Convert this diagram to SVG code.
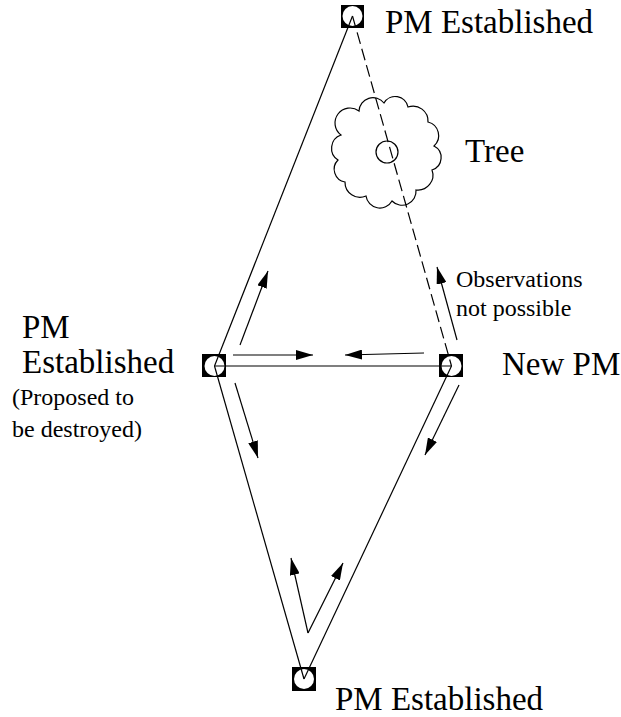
<svg xmlns="http://www.w3.org/2000/svg" width="621" height="717" viewBox="0 0 621 717">
<style>
.big{font-family:"Liberation Serif","Times New Roman",serif;font-size:33px;fill:#000}
.small{font-family:"Liberation Serif","Times New Roman",serif;font-size:24px;fill:#000}
.ln{stroke:#000;stroke-width:1.2;fill:none}
.dash{stroke:#000;stroke-width:1.2;fill:none;stroke-dasharray:12 5}
.arr{stroke:#000;stroke-width:1.2;fill:none;marker-end:url(#ah)}
.sq{fill:#000}
.ci{fill:#fff}
</style>
<defs>
<marker id="ah" markerUnits="userSpaceOnUse" markerWidth="18" markerHeight="10" refX="17" refY="5" orient="auto">
<path d="M0,0 L17,5 L0,10 z" fill="#000"/>
</marker>
</defs>
<rect width="621" height="717" fill="#fff"/>
<g id="pm-top">
<rect class="sq" x="341" y="5" width="23" height="23"/>
<circle class="ci" cx="352.5" cy="16" r="10"/>
</g>
<g id="pm-left">
<rect class="sq" x="202" y="354" width="24" height="23"/>
<circle class="ci" cx="214.5" cy="366" r="10"/>
</g>
<g id="pm-new">
<rect class="sq" x="439" y="354" width="24" height="23"/>
<circle class="ci" cx="451.5" cy="366" r="10"/>
</g>
<g id="pm-bottom">
<rect class="sq" x="292" y="667" width="24" height="24"/>
<circle class="ci" cx="304" cy="679" r="10"/>
</g>
<g id="tree">
<path class="ln" d="M384,103 A13,13 0 0 1 408,107 A15,15 0 0 1 428,122 A14,14 0 0 1 434,146 A13,13 0 0 1 432,170 A15,15 0 0 1 416,190 A14,14 0 0 1 392,201 A14,14 0 0 1 366,196 A15,15 0 0 1 345,182 A13,13 0 0 1 338,160 A14,14 0 0 1 341,135 A15,15 0 0 1 359,111 A14,14 0 0 1 384,103 z"/>
<circle class="ln" cx="387" cy="152" r="11"/>
</g>
<g id="connectors">
<line class="ln" x1="352.5" y1="16" x2="214.5" y2="366"/>
<line class="dash" x1="352.5" y1="16" x2="451.5" y2="366"/>
<line class="ln" x1="214.5" y1="366" x2="451.5" y2="366"/>
<line class="ln" x1="214.5" y1="366" x2="304" y2="679"/>
<line class="ln" x1="451.5" y1="366" x2="304" y2="679"/>
<line class="arr" x1="240" y1="345" x2="268" y2="271"/>
<line class="arr" x1="457" y1="340" x2="437" y2="267"/>
<line class="arr" x1="233" y1="355" x2="313" y2="355"/>
<line class="arr" x1="424" y1="353" x2="345" y2="355"/>
<line class="arr" x1="235" y1="383" x2="258" y2="458"/>
<line class="arr" x1="459" y1="385" x2="425" y2="455"/>
<line class="arr" x1="308" y1="633" x2="291" y2="558"/>
<line class="arr" x1="308" y1="633" x2="343" y2="563"/>
</g>
<g id="labels">
<text class="big" x="385" y="33">PM Established</text>
<text class="big" x="465" y="162">Tree</text>
<text class="small" x="456" y="287">Observations</text>
<text class="small" x="456" y="316">not possible</text>
<text class="big" x="502" y="375">New PM</text>
<text class="big" x="22" y="338">PM</text>
<text class="big" x="22" y="373">Established</text>
<text class="small" x="12" y="405">(Proposed to</text>
<text class="small" x="12" y="437">be destroyed)</text>
<text class="big" x="335" y="710">PM Established</text>
</g>
</svg>
